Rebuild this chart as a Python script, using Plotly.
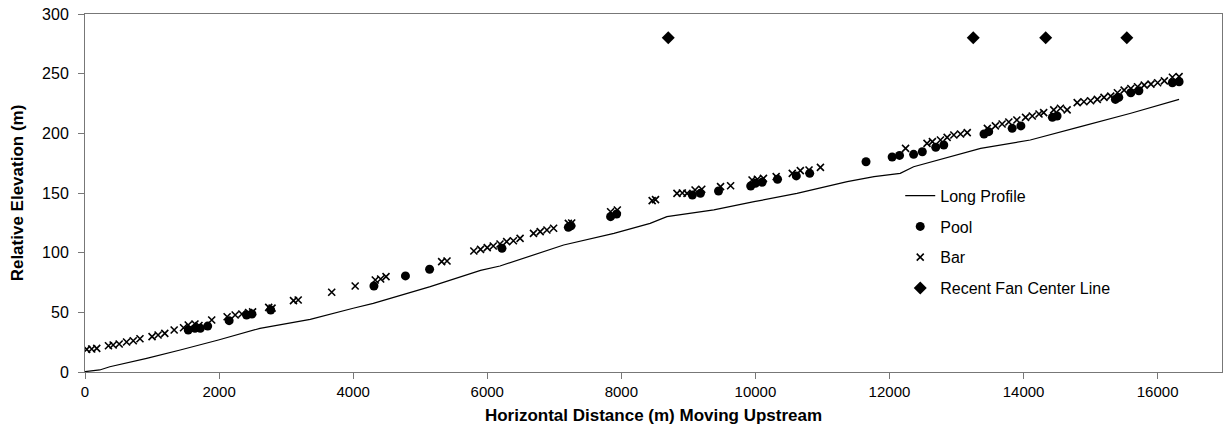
import plotly.graph_objects as go

# Long profile (thalweg) line
profile_x = [0, 220, 370, 920, 1420, 1990, 2610, 3360, 4000, 4300, 5150, 5900, 6190, 6390,
             7140, 7890, 8430, 8680, 9380, 9980, 10620, 11370, 11770, 12160, 12360, 13360,
             14100, 14850, 15600, 16320]
profile_y = [0.3, 1.7, 4.4, 11.4, 18.4, 26.8, 36.6, 44.1, 53.4, 57.5, 71.5, 85.2, 88.8, 92.4,
             106.4, 116.2, 124.6, 130.2, 135.8, 142.7, 149.7, 159.5, 163.7, 166.5, 172.0, 187.4,
             194.4, 205.6, 216.8, 228.5]

# Pools
pool_x = [1540, 1640, 1720, 1830, 2150, 2410, 2490, 2770, 4310, 4780, 5140, 6220, 7210, 7250,
          7840, 7930, 9060, 9180, 9450, 9930, 10000, 10100, 10330, 10610, 10810, 11650,
          12040, 12150, 12360, 12490, 12690, 12810, 13410, 13480, 13830, 13960, 14430, 14500,
          15370, 15420, 15600, 15720, 16220, 16320]
pool_y = [35.2, 36.6, 36.6, 38.5, 43.0, 47.8, 48.6, 52.0, 72.1, 80.5, 86.1, 103.6, 121.2, 122.5,
          130.2, 132.4, 148.3, 149.7, 151.7, 155.9, 158.1, 159.0, 161.5, 164.3, 166.5, 176.2,
          180.2, 181.5, 182.4, 184.6, 188.3, 190.2, 199.4, 201.4, 204.2, 206.2, 213.4, 214.5,
          228.4, 230.1, 234.0, 235.7, 242.4, 243.2]

# Bars
bar_x = [25, 100, 175, 350, 420, 510, 620, 720, 820, 1000, 1090, 1190, 1330, 1470, 1540, 1640,
         1700, 1890, 2120, 2240, 2340, 2440, 2500, 2740, 2790, 3110, 3180, 3680, 4030, 4330,
         4410, 4490, 5320, 5400, 5800, 5900, 6000, 6090, 6190, 6290, 6390, 6490, 6690, 6790,
         6890, 6990, 7210, 7260, 7840, 7940, 8460, 8510, 8830, 8910, 8980, 9100, 9200, 9480,
         9630, 9950, 10030, 10120, 10310, 10550, 10670, 10800, 10970,
         12240, 12560, 12640, 12760, 12860, 12960, 13060, 13160, 13460, 13580, 13680, 13780,
         13900, 14030, 14130, 14230, 14300, 14450, 14550, 14650, 14800, 14900, 15000, 15100,
         15200, 15300, 15400, 15500, 15600, 15700, 15800, 15900, 16000, 16100, 16220, 16320]
bar_y = [19.0, 19.3, 19.8, 22.0, 22.6, 23.5, 25.1, 26.2, 27.9, 29.6, 31.0, 32.4, 35.2, 37.1,
         39.4, 40.2, 39.0, 43.6, 46.3, 47.8, 48.6, 49.7, 50.4, 54.2, 53.5, 59.8, 60.3, 66.8,
         72.1, 77.1, 77.9, 79.9, 92.5, 93.0, 101.4, 102.8, 104.2, 105.6, 107.3, 109.2, 110.0,
         112.0, 116.2, 117.6, 119.0, 120.5, 124.6, 124.9, 134.3, 135.8, 143.6, 144.4, 149.7,
         150.0, 149.7, 152.5, 153.1, 155.3, 156.1, 160.9, 161.5, 162.2, 163.7, 166.5, 168.7,
         169.3, 171.5,
         187.4, 191.6, 193.0, 194.4, 196.6, 198.6, 199.4, 200.6, 204.2, 206.2, 207.8, 209.5,
         211.2, 213.4, 214.5, 216.2, 217.3, 219.6, 221.0, 219.6, 225.7, 226.5, 227.3, 228.4,
         230.1, 231.2, 234.0, 236.2, 237.6, 239.0, 240.4, 241.2, 242.4, 244.0, 247.0, 247.5]

# Recent fan center line
fan_x = [8700, 13250, 14330, 15540]
fan_y = [280, 280, 280, 280]

x_ticks = [0, 2000, 4000, 6000, 8000, 10000, 12000, 14000, 16000]
x_tick_labels = ["0", "2000", "4000", "6000", "8000", "10000", "12000", "14000", "16000"]
y_ticks = [0, 50, 100, 150, 200, 250, 300]
y_tick_labels = ["0", "50", "100", "150", "200", "250", "300"]

fig = go.Figure()
fig.add_trace(go.Scatter(x=profile_x, y=profile_y, mode="lines", name="Long Profile",
                         line=dict(color="black", width=1.2), legendgroup="a"))
fig.add_trace(go.Scatter(x=pool_x, y=pool_y, mode="markers", name="Pool",
                         marker=dict(symbol="circle", size=9, color="black"), legendgroup="b"))
fig.add_trace(go.Scatter(x=bar_x, y=bar_y, mode="markers", name="Bar",
                         marker=dict(symbol="x-thin", size=7, color="black",
                                     line=dict(color="black", width=1.6)), legendgroup="c"))
fig.add_trace(go.Scatter(x=fan_x, y=fan_y, mode="markers", name="Recent Fan Center Line",
                         marker=dict(symbol="diamond", size=10, color="black"), legendgroup="d"))

axis_common = dict(showline=True, linecolor="#777777", linewidth=1, mirror=True,
                   showgrid=False, zeroline=False, ticks="outside", ticklen=6,
                   tickcolor="#777777")

fig.update_xaxes(range=[0, 16960], tickvals=x_ticks, ticktext=x_tick_labels, **axis_common,
                 tickfont=dict(family="Liberation Sans", size=15, color="black"),
                 title=dict(text="<b>Horizontal Distance (m) Moving Upstream</b>",
                            font=dict(family="Liberation Sans", size=17, color="black"),
                            standoff=10))
fig.update_yaxes(range=[0, 300], tickvals=y_ticks, ticktext=y_tick_labels, **axis_common,
                 tickfont=dict(family="Liberation Sans", size=16, color="black"),
                 ticklabelstandoff=6,
                 title=dict(text="<b>Relative Elevation (m)</b>",
                            font=dict(family="Liberation Sans", size=17, color="black"),
                            standoff=14))

fig.update_layout(
    width=1225, height=434,
    margin=dict(l=85, r=3, t=14, b=62),
    paper_bgcolor="white", plot_bgcolor="white",
    showlegend=True,
    legend=dict(x=0.717, y=0.54, xanchor="left", yanchor="top",
                font=dict(family="Liberation Sans", size=16, color="black"),
                bgcolor="rgba(255,255,255,0)", tracegroupgap=7, itemwidth=30),
    font=dict(family="Liberation Sans", color="black"),
)

fig.write_html("out.html")
